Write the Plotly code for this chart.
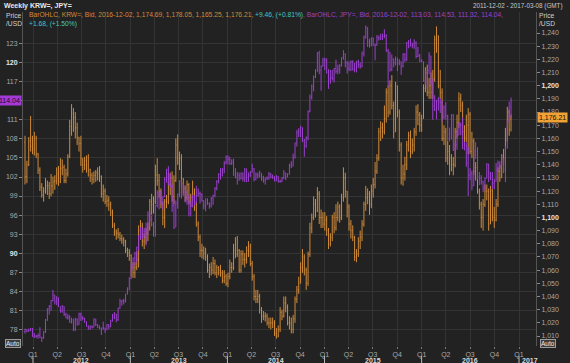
import plotly.graph_objects as go
import pandas as pd

# ---------------- data (weekly bars, Fridays, 2011-12-02 .. 2016-12-02) ----------------
first_week = "2011-12-02"
n_weeks = 262

jpy_close = [
    77.9, 77.7, 77.8, 78.1, 76.9,
    76.9, 76.9, 77.0, 76.7, 76.6, 77.6, 79.5, 81.2, 81.6, 82.5,
    83.4, 82.4, 82.9, 81.6, 80.9, 81.6, 80.3, 79.8, 79.9, 79.1,
    79.6, 78.0, 79.6, 78.7, 80.4, 79.8, 79.7, 79.2, 78.5, 78.2,
    78.4, 78.3, 79.6, 78.7, 78.3, 78.2, 78.2, 78.2, 77.9, 78.7,
    78.4, 79.3, 79.9, 80.4, 79.5, 81.3, 82.4, 82.5, 82.4, 83.5,
    84.2, 86.0, 88.2, 89.2, 90.0, 90.9, 92.7, 92.6, 93.5, 93.4,
    93.6, 96.0, 95.3, 94.5, 94.2, 97.5, 99.6, 99.5, 98.0, 98.9,
    101.6, 103.2, 101.0, 100.5, 97.5, 94.1, 97.9, 99.2, 101.2, 99.2,
    100.6, 98.2, 98.9, 96.2, 97.5, 98.7, 98.1, 99.1, 99.4, 99.3,
    98.3, 97.5, 98.6, 97.8, 97.4, 98.7, 99.1, 100.2, 101.3, 102.4,
    102.9, 103.2, 104.2, 105.2, 104.8, 104.1, 104.3, 102.3, 102.0, 102.3,
    101.8, 102.6, 101.8, 103.3, 101.3, 102.3, 102.8, 103.3, 101.6, 102.4,
    102.2, 102.6, 101.8, 101.5, 101.9, 101.8, 102.5, 102.0, 102.0, 101.4,
    102.1, 101.3, 101.3, 101.8, 102.6, 102.0, 102.4, 103.9, 103.7, 105.1,
    107.4, 109.0, 109.3, 109.8, 107.7, 106.9, 108.2, 112.3, 114.6, 116.3,
    117.8, 118.6, 121.5, 118.8, 119.5, 120.4, 120.5, 118.5, 117.5, 117.7,
    117.5, 119.1, 118.7, 119.0, 119.6, 120.8, 121.4, 120.0, 119.1, 119.0,
    120.2, 118.9, 118.9, 120.2, 119.7, 119.4, 121.5, 124.1, 125.6, 123.4,
    122.7, 123.9, 122.8, 122.8, 124.0, 123.8, 124.0, 124.2, 124.3, 122.0,
    121.7, 119.0, 120.6, 120.0, 120.6, 119.9, 120.2, 119.4, 121.4, 120.6,
    123.2, 122.6, 122.8, 122.8, 123.1, 121.0, 121.2, 120.3, 120.2, 117.2,
    117.0, 118.8, 121.1, 117.0, 113.2, 112.6, 114.0, 113.8, 113.8, 111.5,
    113.0, 111.7, 108.1, 108.8, 111.8, 106.3, 107.1, 108.6, 110.2, 110.2,
    106.5, 107.0, 104.2, 102.2, 102.5, 100.6, 104.9, 106.1, 102.0, 101.8,
    101.3, 100.2, 101.8, 104.0, 102.6, 102.3, 101.0, 101.3, 103.0, 104.2,
    103.8, 104.7, 103.1, 106.6, 110.9, 112.36, 114.04,
]
jpy_high = [
    78.1, 78.0, 78.1, 78.2, 78.2,
    77.4, 77.1, 77.3, 78.3, 76.8, 77.7, 79.6, 81.3, 81.8, 82.6,
    84.2, 83.4, 83.2, 83.0, 81.6, 81.8, 81.2, 80.6, 80.4, 80.2,
    79.8, 79.6, 79.8, 79.7, 80.6, 80.6, 80.1, 79.8, 79.2, 78.6,
    78.6, 78.6, 79.7, 79.6, 78.8, 78.6, 78.2, 79.2, 78.2, 78.8,
    78.8, 79.5, 80.4, 80.7, 80.4, 81.4, 82.8, 82.6, 82.8, 83.6,
    84.6, 86.2, 88.4, 89.3, 90.2, 91.0, 92.8, 94.1, 94.0, 94.0,
    94.8, 96.6, 96.7, 95.9, 94.9, 97.6, 99.9, 99.7, 99.9, 99.0,
    102.0, 103.3, 103.7, 102.5, 100.9, 98.6, 98.3, 99.4, 101.5, 101.5,
    101.0, 100.7, 99.9, 99.2, 98.2, 99.2, 99.1, 100.6, 100.2, 99.7,
    99.4, 98.3, 98.6, 98.6, 98.0, 98.8, 99.2, 100.4, 101.5, 102.6,
    103.4, 103.4, 104.5, 105.4, 105.4, 105.2, 104.8, 104.9, 103.4, 102.8,
    102.7, 102.7, 102.7, 103.4, 103.3, 102.7, 102.9, 104.1, 103.4, 102.7,
    102.7, 103.0, 102.6, 102.2, 101.9, 102.1, 102.8, 102.6, 102.4, 102.1,
    102.3, 102.0, 101.6, 102.0, 103.1, 102.7, 102.6, 104.1, 104.5, 105.7,
    107.4, 109.4, 109.7, 110.1, 109.2, 108.0, 108.4, 112.5, 115.0, 116.6,
    118.0, 119.0, 121.7, 121.9, 119.6, 120.8, 120.8, 120.7, 119.0, 118.9,
    118.9, 119.2, 120.5, 119.7, 119.8, 120.9, 122.0, 121.5, 120.3, 120.2,
    120.4, 120.4, 120.0, 120.3, 120.5, 120.1, 121.8, 124.3, 125.9, 125.4,
    123.8, 124.0, 124.0, 123.0, 124.4, 124.3, 124.6, 124.6, 125.3, 124.5,
    122.2, 121.7, 121.3, 120.7, 121.0, 120.8, 120.6, 120.2, 121.5, 121.5,
    123.3, 123.6, 123.8, 123.2, 123.7, 123.4, 122.5, 121.4, 120.6, 120.2,
    118.8, 118.9, 121.7, 121.0, 117.5, 114.9, 114.2, 114.6, 114.4, 114.0,
    113.3, 113.8, 111.8, 109.8, 111.9, 111.9, 107.5, 109.4, 110.6, 110.6,
    111.4, 107.6, 107.4, 106.8, 103.4, 103.0, 106.3, 107.5, 106.7, 102.8,
    102.3, 101.4, 101.9, 104.2, 104.1, 102.8, 102.8, 101.7, 104.2, 104.6,
    104.5, 105.5, 105.0, 106.9, 111.0, 113.9, 114.53,
]
jpy_low = [
    77.3, 77.5, 77.6, 77.7, 76.8,
    76.6, 76.6, 76.5, 76.6, 76.0, 76.5, 77.4, 79.3, 80.3, 80.9,
    82.4, 81.9, 81.8, 81.5, 80.6, 80.6, 80.1, 79.7, 79.5, 79.0,
    78.9, 77.7, 77.7, 78.6, 78.8, 79.3, 79.4, 79.0, 78.4, 77.9,
    77.9, 78.1, 78.3, 78.5, 78.2, 78.0, 77.1, 77.9, 77.4, 77.9,
    78.0, 78.3, 79.2, 79.6, 79.1, 79.3, 81.2, 81.7, 81.9, 82.2,
    83.5, 84.2, 85.9, 87.2, 88.0, 88.5, 90.4, 92.1, 92.2, 92.5,
    91.2, 92.9, 95.0, 94.2, 92.6, 92.6, 97.2, 96.9, 97.7, 96.9,
    98.8, 101.1, 100.7, 100.3, 96.5, 93.8, 94.1, 97.0, 98.8, 98.6,
    99.0, 98.0, 97.6, 95.8, 95.8, 97.2, 97.5, 97.9, 98.9, 97.8,
    98.1, 96.9, 96.6, 97.6, 97.0, 97.2, 97.6, 98.8, 99.9, 101.0,
    101.6, 102.1, 102.6, 104.0, 104.0, 103.9, 103.9, 102.2, 101.8, 100.8,
    101.4, 101.6, 101.3, 101.2, 101.2, 101.3, 102.0, 102.7, 101.3, 101.5,
    101.8, 101.9, 101.4, 101.1, 100.8, 101.5, 101.6, 101.8, 101.7, 101.3,
    101.4, 101.1, 101.1, 101.2, 101.7, 101.5, 102.0, 102.4, 103.4, 103.7,
    104.9, 106.8, 108.3, 108.3, 107.5, 105.2, 106.6, 107.8, 112.2, 114.2,
    115.5, 117.6, 118.6, 118.2, 115.6, 119.4, 118.9, 118.3, 115.9, 116.7,
    117.2, 116.9, 118.3, 118.2, 118.3, 119.4, 120.5, 119.3, 118.3, 118.7,
    118.7, 118.8, 118.5, 118.5, 119.2, 119.1, 119.3, 121.0, 123.8, 122.5,
    122.4, 122.6, 122.7, 120.4, 122.7, 123.5, 123.6, 123.6, 123.9, 121.7,
    116.2, 118.6, 118.7, 119.3, 119.6, 118.7, 119.6, 118.1, 119.3, 120.1,
    120.3, 122.3, 122.6, 122.3, 122.2, 120.7, 120.9, 120.1, 120.1, 117.0,
    116.5, 115.9, 118.2, 116.5, 111.0, 112.4, 111.1, 112.5, 112.1, 110.7,
    111.1, 111.0, 107.7, 107.6, 107.9, 106.1, 105.5, 106.3, 108.6, 108.6,
    106.4, 106.2, 103.6, 99.0, 101.5, 99.9, 100.7, 104.9, 101.6, 100.7,
    100.8, 99.6, 99.9, 101.8, 101.2, 101.5, 100.1, 100.1, 101.3, 102.9,
    103.3, 103.8, 102.6, 101.2, 106.5, 110.6, 111.32,
]
jpy_first_open = 77.6
jpy_last_open = 113.03

krw_close = [
    1131, 1140, 1158, 1154, 1152,
    1160, 1148, 1136, 1123, 1117, 1120, 1124, 1124, 1118, 1124,
    1127, 1128, 1133, 1127, 1137, 1138, 1128, 1133, 1146, 1169,
    1179, 1176, 1168, 1161, 1156, 1145, 1140, 1143, 1140, 1136,
    1132, 1129, 1132, 1134, 1133, 1131, 1118, 1120, 1112, 1113,
    1110, 1104, 1094, 1089, 1088, 1087, 1084, 1083, 1082, 1075,
    1073, 1071, 1062, 1058, 1062, 1068, 1090, 1093, 1082, 1085,
    1088, 1092, 1112, 1110, 1112, 1132, 1128, 1120, 1110, 1100,
    1112, 1112, 1125, 1130, 1116, 1128, 1155, 1145, 1145, 1126,
    1122, 1115, 1125, 1112, 1115, 1118, 1110, 1095, 1085, 1075,
    1075, 1073, 1070, 1060, 1062, 1060, 1065, 1058, 1062, 1060,
    1058, 1052, 1055, 1050, 1055, 1062, 1062, 1075, 1072, 1075,
    1060, 1072, 1068, 1068, 1075, 1078, 1065, 1055, 1040, 1038,
    1040, 1030, 1025, 1025, 1025, 1020, 1020, 1020, 1020, 1012,
    1010, 1015, 1028, 1025, 1035, 1032, 1020, 1020, 1015, 1023,
    1038, 1045, 1050, 1062, 1070, 1060, 1050, 1072, 1092, 1100,
    1110, 1105, 1118, 1100, 1100, 1095, 1098, 1090, 1080, 1085,
    1100, 1092, 1100, 1108, 1100, 1115, 1130, 1120, 1108, 1095,
    1090, 1085, 1070, 1072, 1082, 1085, 1095, 1110, 1115, 1118,
    1110, 1120, 1125, 1135, 1145, 1165, 1168, 1165, 1175, 1195,
    1180, 1200, 1185, 1165, 1200, 1180, 1155, 1130, 1133, 1140,
    1155, 1162, 1150, 1155, 1165, 1180, 1178, 1170, 1175, 1198,
    1210, 1195, 1200, 1195, 1205, 1235, 1238, 1200, 1195, 1160,
    1165, 1145, 1150, 1145, 1140, 1140, 1165, 1172, 1190, 1185,
    1165, 1160, 1170, 1178, 1150, 1158, 1135, 1138, 1120, 1110,
    1100, 1110, 1120, 1120, 1095, 1120, 1100, 1098, 1110, 1135,
    1130, 1145, 1145, 1158, 1180, 1166.75, 1176.21,
]
krw_high = [
    1162, 1143, 1161, 1177, 1162,
    1165, 1162, 1149, 1138, 1126, 1123, 1130, 1128, 1127, 1133,
    1131, 1132, 1138, 1139, 1145, 1144, 1140, 1137, 1148, 1174,
    1186, 1183, 1180, 1172, 1161, 1162, 1145, 1146, 1147, 1148,
    1137, 1134, 1135, 1136, 1138, 1139, 1132, 1125, 1122, 1117,
    1116, 1112, 1106, 1096, 1091, 1092, 1089, 1087, 1085, 1083,
    1077, 1076, 1072, 1066, 1066, 1074, 1094, 1098, 1096, 1088,
    1092, 1096, 1114, 1118, 1116, 1140, 1145, 1133, 1122, 1112,
    1114, 1117, 1134, 1134, 1135, 1132, 1160, 1163, 1150, 1148,
    1130, 1124, 1128, 1126, 1118, 1128, 1122, 1112, 1097, 1087,
    1080, 1078, 1077, 1072, 1065, 1066, 1070, 1068, 1064, 1063,
    1064, 1060, 1060, 1057, 1058, 1068, 1066, 1080, 1085, 1086,
    1076, 1075, 1075, 1073, 1078, 1082, 1080, 1067, 1057, 1045,
    1045, 1042, 1032, 1029, 1028, 1027, 1024, 1024, 1024, 1022,
    1016, 1018, 1032, 1030, 1040, 1040, 1034, 1025, 1024, 1026,
    1040, 1048, 1055, 1066, 1076, 1072, 1062, 1074, 1096, 1103,
    1116, 1114, 1123, 1120, 1106, 1104, 1104, 1101, 1092, 1088,
    1102, 1104, 1110, 1112, 1110, 1118, 1138, 1134, 1120, 1110,
    1098, 1094, 1086, 1076, 1085, 1090, 1098, 1112, 1124, 1122,
    1120, 1125, 1130, 1142, 1148, 1168, 1173, 1172, 1185, 1198,
    1200, 1204, 1208, 1188, 1203, 1200, 1182, 1157, 1140, 1146,
    1158, 1165, 1166, 1160, 1168, 1185, 1186, 1180, 1178, 1201,
    1214, 1216, 1206, 1210, 1212, 1238, 1245, 1238, 1212, 1198,
    1170, 1168, 1158, 1155, 1148, 1146, 1168, 1178, 1195, 1194,
    1188, 1170, 1178, 1183, 1180, 1165, 1160, 1142, 1140, 1122,
    1112, 1114, 1125, 1125, 1122, 1124, 1122, 1108, 1114, 1138,
    1140, 1148, 1152, 1168, 1184, 1182, 1178.05,
]
krw_low = [
    1125, 1126, 1139, 1150, 1148,
    1147, 1145, 1133, 1120, 1115, 1112, 1118, 1117, 1114, 1116,
    1118, 1121, 1125, 1124, 1126, 1132, 1126, 1126, 1131, 1145,
    1162, 1165, 1160, 1155, 1150, 1139, 1134, 1136, 1134, 1131,
    1127, 1125, 1126, 1127, 1128, 1127, 1115, 1112, 1110, 1108,
    1105, 1101, 1092, 1086, 1083, 1084, 1082, 1080, 1078, 1073,
    1070, 1067, 1055, 1054, 1054, 1060, 1062, 1083, 1078, 1076,
    1080, 1082, 1090, 1102, 1103, 1110, 1124, 1115, 1107, 1094,
    1092, 1107, 1110, 1117, 1112, 1110, 1127, 1140, 1136, 1122,
    1118, 1112, 1113, 1110, 1108, 1112, 1105, 1093, 1082, 1070,
    1069, 1068, 1067, 1058, 1054, 1056, 1057, 1056, 1054, 1056,
    1055, 1050, 1050, 1048, 1047, 1053, 1058, 1060, 1069, 1070,
    1058, 1058, 1064, 1062, 1065, 1070, 1063, 1052, 1037, 1035,
    1035, 1027, 1020, 1022, 1021, 1018, 1016, 1015, 1016, 1010,
    1008, 1009, 1013, 1022, 1024, 1028, 1018, 1015, 1012, 1012,
    1020, 1035, 1042, 1050, 1058, 1056, 1045, 1048, 1070, 1088,
    1098, 1100, 1104, 1095, 1092, 1092, 1090, 1086, 1076, 1078,
    1082, 1088, 1090, 1097, 1096, 1098, 1112, 1115, 1100, 1090,
    1084, 1082, 1067, 1066, 1070, 1076, 1082, 1093, 1105, 1110,
    1102, 1107, 1115, 1122, 1133, 1143, 1158, 1160, 1163, 1172,
    1176, 1178, 1182, 1160, 1165, 1176, 1150, 1125, 1124, 1128,
    1136, 1150, 1145, 1148, 1150, 1162, 1170, 1165, 1165, 1178,
    1195, 1192, 1190, 1190, 1190, 1203, 1225, 1198, 1190, 1158,
    1155, 1142, 1140, 1132, 1135, 1132, 1138, 1160, 1168, 1180,
    1160, 1155, 1157, 1148, 1148, 1145, 1132, 1128, 1118, 1106,
    1092, 1090, 1108, 1113, 1090, 1095, 1097, 1092, 1097, 1108,
    1127, 1130, 1140, 1135, 1158, 1162, 1165.25,
]
krw_first_open = 1157
krw_last_open = 1174.69

jpy_ticks = list(range(78, 124, 3))
krw_ticks = list(range(1010, 1241, 10))
quarter_labels = ["Q1", "Q2", "Q3", "Q4"]
years = [2012, 2013, 2014, 2015, 2016, 2017]

# ---------------- build ----------------
dates = pd.date_range(first_week, periods=n_weeks, freq="7D")


def opens(first, close, last):
    o = [first] + close[:-1]
    o[-1] = last
    return o


def clamp(o, h, l, c):
    hh = [max(a, b, d) for a, b, d in zip(h, o, c)]
    ll = [min(a, b, d) for a, b, d in zip(l, o, c)]
    return hh, ll


jpy_open = opens(jpy_first_open, jpy_close, jpy_last_open)
krw_open = opens(krw_first_open, krw_close, krw_last_open)
jh, jl = clamp(jpy_open, jpy_high, jpy_low, jpy_close)
kh, kl = clamp(krw_open, krw_high, krw_low, krw_close)

ORANGE = "#d18b3a"
PURPLE = "#9c40cf"
TEAL = "#45c7c1"
BG = "#222222"
GRID = "#343434"
TXT = "#a8a8a8"
FONT = "Liberation Sans"

W, H = 570, 363
L, R, T, B = 23, 536, 12, 346


def fx(p):
    return (p - L) / (R - L)


def fy(p):
    return (B - p) / (B - T)


fig = go.Figure()
fig.add_trace(go.Ohlc(
    x=dates, open=krw_open, high=kh, low=kl, close=krw_close,
    increasing=dict(line=dict(color=ORANGE, width=1)),
    decreasing=dict(line=dict(color=ORANGE, width=1)),
    tickwidth=0.3, yaxis="y", hoverinfo="skip", showlegend=False,
))
fig.add_trace(go.Ohlc(
    x=dates, open=jpy_open, high=jh, low=jl, close=jpy_close,
    increasing=dict(line=dict(color=PURPLE, width=1)),
    decreasing=dict(line=dict(color=PURPLE, width=1)),
    tickwidth=0.3, yaxis="y2", hoverinfo="skip", showlegend=False,
))

qvals, qtext = [], []
for y in range(2012, 2018):
    for qi, m in enumerate([1, 4, 7, 10]):
        if y == 2017 and m > 1:
            break
        qvals.append(f"{y}-{m:02d}-01")
        qtext.append(quarter_labels[qi])


def bold_if(v, s, strong):
    return f'<span style="color:#e6e6e6"><b>{s}</b></span>' if v in strong else s


# the 114 label sits under the last-value box in the reference
jpy_text = ["" if v == 114 else bold_if(v, str(v), (90, 120)) for v in jpy_ticks]
krw_text = [bold_if(v, f"{v:,}", (1100, 1200)) for v in krw_ticks]

tickfont = dict(family=FONT, size=7, color=TXT)

fig.update_layout(
    width=W, height=H,
    margin=dict(l=L, r=W - R, t=T, b=H - B, pad=0, autoexpand=False),
    paper_bgcolor=BG, plot_bgcolor=BG,
    font=dict(family=FONT, size=7, color=TXT),
    showlegend=False,
    xaxis=dict(
        type="date", range=["2011-11-24 10:00", "2017-03-05 22:00"],
        tickvals=qvals, ticktext=qtext, tickfont=tickfont,
        ticks="outside", ticklen=2, tickcolor="#777",
        showgrid=True, gridcolor=GRID, gridwidth=1,
        showline=False, zeroline=False, automargin=False,
        rangeslider=dict(visible=False), fixedrange=True,
    ),
    yaxis=dict(
        side="right", range=[1002.41, 1255.94],
        tickvals=krw_ticks, ticktext=krw_text, tickfont=tickfont,
        ticks="outside", ticklen=3, tickcolor="#888",
        showgrid=False, zeroline=False, automargin=False,
        showline=True, linecolor="#555", linewidth=1, fixedrange=True,
    ),
    yaxis2=dict(
        overlaying="y", side="left", range=[75.35, 128.02],
        tickvals=jpy_ticks, ticktext=jpy_text, tickfont=tickfont,
        ticks="outside", ticklen=3, tickcolor="#888",
        showgrid=True, gridcolor=GRID, gridwidth=1, zeroline=False,
        automargin=False,
        showline=True, linecolor="#555", linewidth=1, fixedrange=True,
    ),
)

ann = []


def text(x, y, s, size=7, color=TXT, xanchor="left", **kw):
    d = dict(x=x, y=y, xref=kw.pop("xref", "paper"), yref=kw.pop("yref", "paper"),
             text=s, showarrow=False, xanchor=xanchor, yanchor=kw.pop("yanchor", "middle"),
             font=dict(family=FONT, size=size, color=color))
    d.update(kw)
    ann.append(d)


text(fx(2), fy(6), "<b>Weekly KRW=, JPY=</b>", size=7, color="#e8e8e8")
text(fx(564), fy(6), "2011-12-02 - 2017-03-08 (GMT)", size=6.3, color="#c8c8c8", xanchor="right")
text(fx(13.5), fy(15), "Price", size=6.7, color="#d0d0d0", xanchor="center")
text(fx(13.5), fy(24), "/USD", size=6.7, color="#d0d0d0", xanchor="center")
text(fx(547), fy(15), "Price", size=6.7, color="#d0d0d0", xanchor="center")
text(fx(547), fy(24), "/USD", size=6.7, color="#d0d0d0", xanchor="center")

legend1 = (
    f'<span style="color:{ORANGE}">BarOHLC, KRW=, Bid, 2016-12-02, 1,174.69, 1,178.05, 1,165.25, 1,176.21, </span>'
    f'<span style="color:{TEAL}">+9.46, (+0.81%)</span>'
    f'<span style="color:{PURPLE}">, BarOHLC, JPY=, Bid, 2016-12-02, 113.03, 114.53, 111.32, 114.04,</span>'
)
text(fx(27), fy(15), legend1, size=6.7)
text(fx(27), fy(24), "+1.68, (+1.50%)", size=6.7, color=TEAL)

# last-value boxes
text(fx(22), jpy_close[-1], f"{jpy_close[-1]:.2f}", size=7, color="#220a30",
     xanchor="right", yref="y2", bgcolor="#a33ad8", borderpad=1)
text(fx(536.5), krw_close[-1], f"{krw_close[-1]:,.2f}", size=7, color="#1a1206",
     xanchor="left", yref="y", bgcolor="#f0a236", borderpad=1)

# Auto buttons
for cx in (12.5, 547.5):
    text(fx(cx), fy(343.5), "Auto", size=6.5, color="#eeeeee", xanchor="center",
         bgcolor="#3c3c3c", bordercolor="#9a9a9a", borderwidth=1, borderpad=0)

# year labels and year-start marks
shapes = []
for y in years:
    shapes.append(dict(type="line", xref="x", yref="paper",
                       x0=f"{y}-01-01", x1=f"{y}-01-01", y0=fy(356), y1=fy(364),
                       line=dict(color="#bbbbbb", width=1)))
    if y < 2017:
        text(f"{y}-07-01", fy(360.5), f"<b>{y}</b>", size=7, color="#d8d8d8",
             xanchor="center", xref="x")
    else:
        text(f"{y}-01-01", fy(360.5), f"<b>{y}</b>", size=7, color="#d8d8d8",
             xanchor="left", xref="x", xshift=1)

fig.update_layout(annotations=ann, shapes=shapes)

fig.write_html(
    "out.html",
    config={"displayModeBar": False},
    post_script="document.body.style.margin='0';document.body.style.background='#222222';",
)
